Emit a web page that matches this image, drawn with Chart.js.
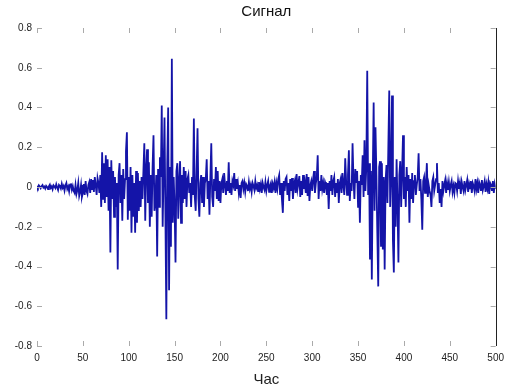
<!DOCTYPE html>
<html>
<head>
<meta charset="utf-8">
<script src="https://cdn.jsdelivr.net/npm/chart.js@4/dist/chart.umd.min.js"></script>
<style>
  html, body { margin: 0; padding: 0; background: #fff; }
  #wrap { width: 510px; height: 392px; }
</style>
</head>
<body>
<div id="wrap"><canvas id="signalCanvas" width="510" height="392"></canvas></div>
<script>
// Chart text
const chartTitle = "Сигнал";
const xTitle = "Час";

// Axis ticks
const xTicks = [0, 50, 100, 150, 200, 250, 300, 350, 400, 450, 500];
const yTicks = [-0.8, -0.6, -0.4, -0.2, 0, 0.2, 0.4, 0.6, 0.8];

// Signal samples, one per time step 0..500
const signal = [
  0.005, -0.004, 0.008, 0.002, -0.006, 0.004, 0.010, -0.003, 0.002, -0.008,
  0.006, 0.000, -0.010, 0.004, 0.012, -0.005, 0.003, -0.012, 0.008, 0.002,
  -0.006, 0.014, -0.002, -0.015, 0.010, 0.004, -0.008, 0.016, -0.004, 0.006,
  -0.018, 0.008, 0.020, -0.010, 0.002, -0.022, 0.012, 0.018, -0.014, 0.004,
  -0.020, -0.030, 0.010, -0.035, -0.015, 0.020, -0.045, -0.025, 0.010, -0.050,
  -0.030, 0.015, -0.040, 0.030, -0.020, -0.035, 0.010, 0.025, -0.030, 0.040,
  -0.010, 0.035, -0.025, 0.050, 0.010, -0.040, 0.045, 0.020, -0.030, 0.060,
  -0.100, 0.175, -0.060, 0.120, -0.080, 0.160, -0.050, 0.140, -0.120, 0.100,
  -0.330, 0.135, -0.060, 0.080, -0.150, 0.050, -0.100, 0.020, -0.415, 0.060,
  0.120, -0.080, 0.060, -0.170, 0.090, -0.060, 0.040, 0.180, 0.275, -0.165,
  0.050, -0.120, 0.100, -0.230, 0.060, -0.150, 0.020, -0.230, 0.080, -0.180,
  0.070, -0.120, 0.030, -0.100, 0.050, -0.060, 0.080, 0.220, -0.170, 0.090,
  0.190, -0.080, 0.125, -0.200, 0.060, -0.150, 0.100, 0.260, -0.120, -0.080,
  0.060, -0.350, 0.090, -0.100, 0.150, 0.050, 0.410, -0.200, 0.080, 0.350,
  -0.150, -0.665, 0.120, 0.400, -0.520, 0.100, -0.300, 0.645, -0.180, 0.050,
  -0.100, -0.380, 0.080, 0.120, -0.160, 0.030, 0.130, -0.180, 0.060, -0.080,
  0.100, -0.060, 0.080, -0.100, 0.040, 0.060, -0.030, 0.020, -0.100, 0.050,
  -0.040, 0.345, -0.050, -0.120, 0.080, 0.295, -0.060, -0.150, 0.020, 0.060,
  -0.080, 0.050, -0.100, 0.020, 0.040, 0.140, -0.060, 0.030, -0.140, 0.050,
  0.220, -0.050, -0.100, 0.040, -0.020, 0.100, -0.060, 0.080, -0.070, 0.030,
  -0.080, 0.020, 0.040, -0.030, 0.070, 0.010, -0.040, 0.030, -0.020, 0.125,
  -0.030, 0.020, -0.040, 0.030, 0.010, 0.070, -0.020, 0.040, -0.010, 0.020,
  -0.030, 0.010, -0.055, 0.020, 0.030, -0.010, 0.020, -0.025, 0.015, 0.005,
  -0.020, 0.025, -0.010, 0.010, -0.025, 0.020, 0.005, -0.015, 0.030, -0.005,
  0.010, -0.020, 0.025, -0.010, 0.015, -0.030, 0.020, 0.000, -0.015, 0.025,
  -0.020, 0.010, 0.030, -0.025, 0.005, 0.020, -0.030, 0.015, -0.005, 0.025,
  -0.030, 0.020, -0.010, 0.040, 0.060, -0.040, 0.020, -0.060, -0.130, 0.030,
  -0.020, 0.040, 0.050, -0.040, 0.020, -0.070, 0.040, -0.020, 0.045, -0.060,
  0.010, 0.030, -0.030, 0.065, -0.010, 0.020, 0.055, -0.050, 0.030, -0.040,
  0.060, -0.010, 0.020, -0.030, 0.065, -0.045, 0.050, -0.070, 0.010, 0.030,
  -0.020, 0.040, 0.080, -0.030, 0.020, 0.050, 0.160, -0.060, 0.030, -0.020,
  0.060, -0.010, 0.020, -0.030, 0.025, 0.010, -0.040, 0.020, -0.110, 0.030,
  -0.020, 0.060, -0.040, 0.030, 0.050, -0.050, 0.020, -0.030, 0.040, -0.080,
  0.020, 0.040, -0.030, 0.070, 0.010, -0.040, 0.145, 0.030, -0.040, 0.060,
  0.185, -0.070, 0.020, -0.020, 0.220, 0.040, -0.060, 0.090, 0.020, 0.080,
  -0.100, 0.030, -0.180, 0.060, 0.010, 0.160, -0.050, 0.235, -0.020, 0.100,
  0.585, -0.040, 0.120, -0.365, 0.080, -0.465, 0.050, 0.425, -0.120, 0.300,
  0.060, -0.230, -0.500, 0.100, 0.130, -0.300, 0.120, -0.315, 0.050, -0.415,
  0.030, 0.110, -0.080, 0.200, 0.485, -0.100, 0.060, 0.460, -0.265, -0.430,
  0.050, -0.200, 0.140, -0.080, -0.380, 0.060, 0.130, -0.100, 0.080, 0.260,
  -0.060, 0.050, -0.100, 0.100, -0.020, 0.060, -0.180, 0.040, -0.060, 0.070,
  -0.080, 0.030, 0.060, -0.040, 0.010, 0.050, 0.170, -0.020, 0.040, -0.060,
  -0.215, 0.030, 0.050, -0.030, 0.020, 0.120, -0.050, 0.010, -0.020, -0.040,
  -0.100, 0.030, 0.050, -0.020, 0.010, 0.040, 0.120, -0.030, 0.020, -0.080,
  -0.010, -0.100, 0.030, -0.020, 0.010, 0.035, -0.030, 0.020, -0.015, 0.025,
  -0.020, 0.010, 0.030, -0.025, 0.005, -0.030, 0.020, 0.015, -0.020, 0.030,
  -0.010, 0.020, -0.035, 0.025, 0.000, -0.020, 0.030, -0.015, 0.010, 0.035,
  -0.025, 0.015, -0.010, 0.030, -0.030, 0.020, 0.005, -0.020, 0.040, -0.010,
  0.020, -0.030, 0.025, 0.010, -0.020, 0.035, -0.015, 0.005, 0.030, -0.025,
  0.015, -0.010, 0.025, -0.035, 0.020, 0.010, -0.020, 0.030, -0.030, 0.015,
  -0.010
];

const points = signal.map((v, i) => ({ x: i, y: v }));

// frame, inward ticks and title, MATLAB style
const framePlugin = {
  id: "frame",
  afterDraw(chart) {
    const { ctx, chartArea: a, scales } = chart;
    ctx.save();
    ctx.lineWidth = 1;
    ctx.strokeStyle = "#aaa";
    ctx.beginPath();
    scales.y.ticks.forEach((t) => {
      const py = Math.round(scales.y.getPixelForValue(t.value)) + 0.5;
      ctx.moveTo(a.left, py); ctx.lineTo(a.left + 5, py);
      ctx.moveTo(a.right, py); ctx.lineTo(a.right - 5, py);
    });
    scales.x.ticks.forEach((t) => {
      const px = Math.round(scales.x.getPixelForValue(t.value)) + 0.5;
      ctx.moveTo(px, a.bottom); ctx.lineTo(px, a.bottom - 5);
      ctx.moveTo(px, a.top); ctx.lineTo(px, a.top + 5);
    });
    ctx.stroke();

    // only the right edge of the box shows in the picture
    ctx.strokeStyle = "#222";
    ctx.beginPath();
    ctx.moveTo(Math.round(a.right) + 0.5, a.top);
    ctx.lineTo(Math.round(a.right) + 0.5, a.bottom);
    ctx.stroke();

    ctx.fillStyle = "#111";
    ctx.font = "15px 'Liberation Sans', Arial, sans-serif";
    ctx.textAlign = "center";
    ctx.textBaseline = "middle";
    ctx.fillText(chartTitle, (a.left + a.right) / 2, 12);
    ctx.restore();
  },
};

const ctx = document.getElementById("signalCanvas").getContext("2d");
window.signalChart = new Chart(ctx, {
  type: "line",
  data: {
    datasets: [
      {
        label: chartTitle,
        data: points,
        borderColor: "#1414a8",
        borderWidth: 1.8,
        pointRadius: 0,
        tension: 0,
        fill: false,
      },
    ],
  },
  options: {
    responsive: false,
    animation: false,
    layout: { padding: { top: 28, right: 8, left: 0, bottom: 0 } },
    plugins: {
      legend: { display: false },
      title: { display: false },
      tooltip: { enabled: false },
    },
    scales: {
      x: {
        type: "linear",
        min: xTicks[0],
        max: xTicks[xTicks.length - 1],
        afterBuildTicks: (s) => { s.ticks = xTicks.map((v) => ({ value: v })); },
        afterFit: (s) => { s.height = 46; },
        grid: { display: false, drawTicks: false },
        border: { display: false },
        ticks: {
          padding: 6,
          maxRotation: 0,
          color: "#222",
          font: { family: "'Liberation Sans', Arial, sans-serif", size: 10 },
        },
        title: {
          display: true,
          text: xTitle,
          color: "#222",
          padding: { top: 0, bottom: 3 },
          font: { family: "'Liberation Sans', Arial, sans-serif", size: 15 },
        },
      },
      y: {
        min: yTicks[0],
        max: yTicks[yTicks.length - 1],
        afterBuildTicks: (s) => { s.ticks = yTicks.map((v) => ({ value: v })); },
        afterFit: (s) => { s.width = 37; },
        grid: { display: false, drawTicks: false },
        border: { display: false },
        ticks: {
          padding: 5,
          color: "#222",
          font: { family: "'Liberation Sans', Arial, sans-serif", size: 10 },
          callback: (v) => (Math.abs(v) < 1e-9 ? "0" : v.toFixed(1)),
        },
      },
    },
  },
  plugins: [framePlugin],
});
</script>
</body>
</html>
